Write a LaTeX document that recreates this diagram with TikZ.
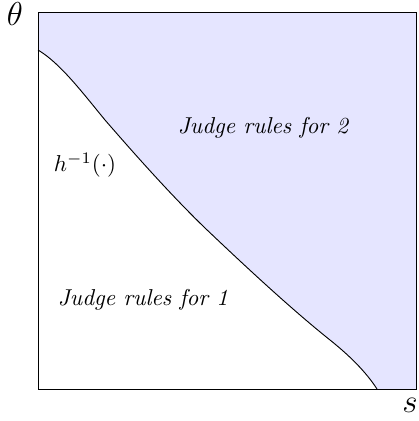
\documentclass[tikz,border=0pt]{standalone}
\begin{document}
\begin{tikzpicture}[x=0.435pt,y=-0.435pt,
  region/.style={fill=blue!10,draw=none},
  lbl/.style={font=\itshape,inner sep=0pt},
  axis/.style={font=\Large,inner sep=0pt}]
\useasboundingbox (0,0) rectangle (418,421);
\def\curvepath{(38,50) .. controls (60,63) and (82,92) .. (105,120) .. controls (138,158) and (172,196) .. (205,228) .. controls (245,266) and (290,308) .. (330,340) .. controls (350,356) and (366,372) .. (377,389)}
\fill[region] (416,12) -- (38,12) -- \curvepath -- (416,389) -- cycle;
\draw[thin] \curvepath;
\draw[thin] (38,12) rectangle (416,389);
\node[lbl] (j2) at (263,128) {Judge rules for 2};
\node[lbl] (j1) at (143,300) {Judge rules for 1};
\node[inner sep=0pt] (h) at (85,165) {$h^{-1}(\cdot)$};
\node[axis] (th) at (15,14) {$\theta$};
\node[axis] (s) at (410,405) {$s$};
\end{tikzpicture}
\end{document}
